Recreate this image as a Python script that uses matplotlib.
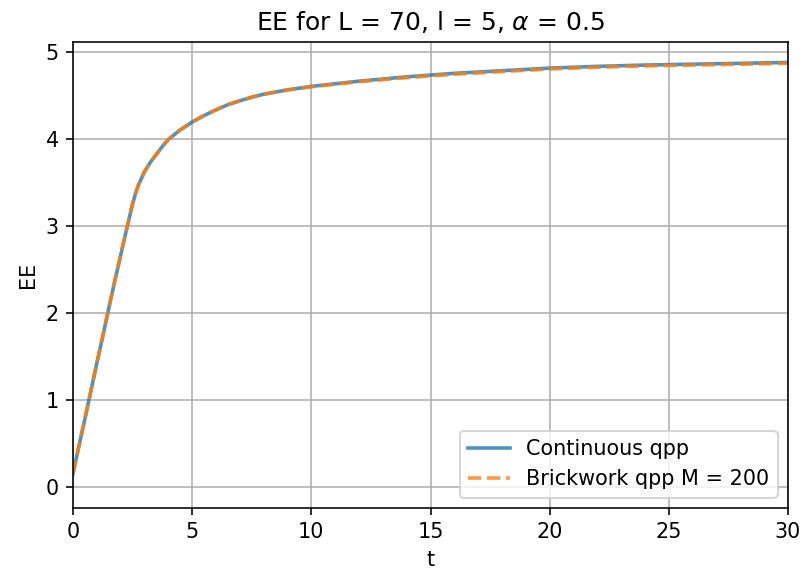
import matplotlib
matplotlib.use("Agg")
import matplotlib.pyplot as plt

plt.rcParams["font.size"] = 10.4

L = 70
l = 5
alpha = 0.5
M = 200

# entanglement entropy vs time
t = [0, 0.25, 0.5, 0.75, 1.0, 1.25, 1.5, 1.75, 2.0, 2.25, 2.5, 2.625, 2.75, 3.0, 3.25, 3.5,
     3.75, 4.0, 4.5, 5, 5.5, 6, 6.5, 7, 7.5, 8, 9, 10, 12, 14, 16, 18, 20, 22, 24, 26, 28, 30]
ee_cont = [0.15, 0.47, 0.78, 1.10, 1.42, 1.73, 2.05, 2.36, 2.66, 2.96, 3.25, 3.37, 3.47, 3.62, 3.73, 3.82,
           3.91, 3.99, 4.10, 4.19, 4.265, 4.33, 4.39, 4.435, 4.475, 4.51, 4.56, 4.60, 4.66, 4.71, 4.75, 4.78,
           4.81, 4.83, 4.845, 4.855, 4.865, 4.875]
ee_brick = [0.15, 0.47, 0.78, 1.10, 1.42, 1.73, 2.05, 2.36, 2.66, 2.96, 3.25, 3.37, 3.47, 3.62, 3.73, 3.82,
            3.91, 3.99, 4.10, 4.19, 4.265, 4.33, 4.39, 4.435, 4.475, 4.51, 4.56, 4.595, 4.655, 4.70, 4.74, 4.77,
            4.80, 4.82, 4.835, 4.845, 4.855, 4.865]

fig = plt.figure(figsize=(804/144, 578/144), dpi=144)
ax = fig.add_axes([73/804, 1 - 508/578, 715/804, 466/578])
ax.plot(t, ee_cont, lw=1.8, alpha=0.8, label="Continuous qpp")
ax.plot(t, ee_brick, "--", lw=1.8, alpha=0.8, label="Brickwork qpp M = %d" % M)
ax.set_xlim(0, 30)
ax.set_ylim(-0.244, 5.11)
ax.grid()
ax.set_xlabel("t")
ax.set_ylabel("EE")
ax.set_title(r"EE for L = %d, l = %d, $\alpha$ = %s" % (L, l, alpha))
ax.legend(loc="lower right")
fig.savefig("out.png", dpi=144)
